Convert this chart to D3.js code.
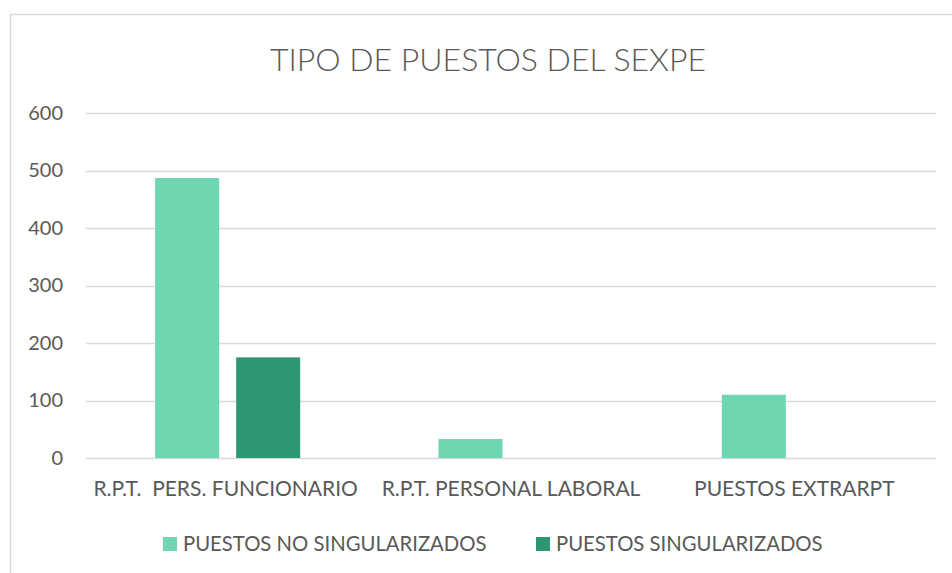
<!DOCTYPE html>
<html>
<head>
<meta charset="utf-8">
<script src="https://cdn.jsdelivr.net/npm/d3@7"></script>
<style>
    body { margin: 0; background: #fff; }
    svg { display: block; font-family: Lato, "Open Sans", sans-serif; }
</style>
</head>
<body>
<div id="chart"></div>
<script>
// Categories on the x-axis
const categories = ["R.P.T.  PERS. FUNCIONARIO", "R.P.T. PERSONAL LABORAL", "PUESTOS EXTRARPT"];

// Series names and their values per category
const seriesNames = ["PUESTOS NO SINGULARIZADOS", "PUESTOS SINGULARIZADOS"];
const noSingularizados = [487, 33, 110];
const singularizados = [175, 0, 0];

// Y-axis ticks
const yTicks = [0, 100, 200, 300, 400, 500, 600];

const colors = ["#6fd6b1", "#2d9673"];
const textColor = "#595959";

const width = 952;
const height = 573;
const margin = { top: 113, right: 16, bottom: 114, left: 86 };

const svg = d3.select("#chart").append("svg")
    .attr("width", width)
    .attr("height", height);

// Chart area border
svg.append("rect")
    .attr("x", 10.5)
    .attr("y", 14.5)
    .attr("width", 960)
    .attr("height", 600)
    .attr("fill", "none")
    .attr("stroke", "#d9d9d9")
    .attr("stroke-width", 1.5);

// Title
svg.append("text")
    .attr("x", 488)
    .attr("y", 71)
    .attr("text-anchor", "middle")
    .attr("fill", textColor)
    .style("font-size", "32px")
    .style("font-weight", 300)
    .text("TIPO DE PUESTOS DEL SEXPE");

// Scales
const x0 = d3.scaleBand()
    .domain(categories)
    .range([margin.left, width - margin.right])
    .paddingInner(0.488)
    .paddingOuter(0.244);

const x1 = d3.scaleBand()
    .domain(seriesNames)
    .range([0, x0.bandwidth()])
    .paddingInner(0.21);

const y = d3.scaleLinear()
    .domain([0, 600])
    .range([height - margin.bottom - 1, margin.top]);

// Gridlines
svg.append("g")
    .selectAll("line")
    .data(yTicks)
    .join("line")
    .attr("x1", margin.left)
    .attr("x2", width - margin.right)
    .attr("y1", d => Math.round(y(d)) + 0.5)
    .attr("y2", d => Math.round(y(d)) + 0.5)
    .attr("stroke", "#d9d9d9")
    .attr("stroke-width", 1.5);

// Y axis labels
const yAxis = d3.axisLeft(y).tickValues(yTicks).tickSize(0).tickPadding(0);
const yAxisGroup = svg.append("g")
    .attr("transform", "translate(" + [63, 0] + ")")
    .call(yAxis);
yAxisGroup.select(".domain").remove();
yAxisGroup.selectAll("text")
    .attr("fill", textColor)
    .style("font-size", "20px")
    .style("font-family", "Lato, sans-serif");

// Bars
const rows = categories.map((c, i) => ({
    category: c,
    values: [noSingularizados[i], singularizados[i]]
}));

svg.append("g")
    .selectAll("g")
    .data(rows)
    .join("g")
    .attr("transform", d => "translate(" + x0(d.category) + ",0)")
    .selectAll("rect")
    .data(d => d.values.map((v, k) => ({ key: seriesNames[k], value: v, k: k })))
    .join("rect")
    .attr("x", d => x1(d.key))
    .attr("width", x1.bandwidth())
    .attr("y", d => y(d.value))
    .attr("height", d => y(0) - y(d.value))
    .attr("fill", d => colors[d.k]);

// X axis labels
const xAxis = d3.axisBottom(x0).tickSize(0).tickPadding(0);
const xAxisGroup = svg.append("g")
    .attr("transform", "translate(" + [0, 481] + ")")
    .call(xAxis);
xAxisGroup.select(".domain").remove();
xAxisGroup.selectAll("text")
    .attr("fill", textColor)
    .style("font-size", "21px")
    .style("font-family", "Lato, sans-serif")
    .style("white-space", "pre");
// first label sits a little left of its band centre in the original
xAxisGroup.selectAll("text").filter((d, i) => i === 0).attr("x", -2);

// Legend
const legendItems = [
    { name: seriesNames[0], color: colors[0], x: 163 },
    { name: seriesNames[1], color: colors[1], x: 536 }
];
const legend = svg.append("g");
legend.selectAll("rect")
    .data(legendItems)
    .join("rect")
    .attr("x", d => d.x)
    .attr("y", 537)
    .attr("width", 14)
    .attr("height", 14)
    .attr("fill", d => d.color);
legend.selectAll("text")
    .data(legendItems)
    .join("text")
    .attr("x", d => d.x + 20)
    .attr("y", 544)
    .attr("dy", "0.35em")
    .attr("fill", textColor)
    .style("font-size", "20.3px")
    .text(d => d.name);
</script>
</body>
</html>
